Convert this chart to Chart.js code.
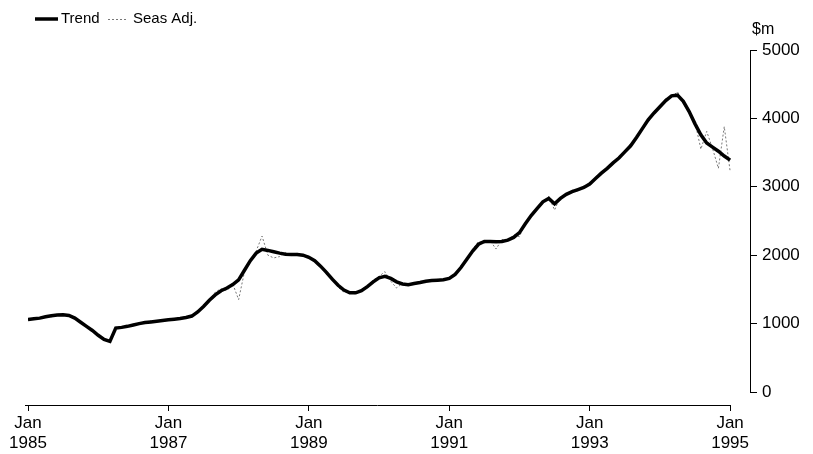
<!DOCTYPE html>
<html>
<head>
<meta charset="utf-8">
<script src="https://cdn.jsdelivr.net/npm/chart.js@4.4.1/dist/chart.umd.min.js"></script>
<style>
  html, body { margin: 0; padding: 0; background: #fff; }
  canvas { display: block; }
</style>
</head>
<body>
<canvas id="chart" width="813" height="454"></canvas>
<script>
// monthly values, Jan 1985 .. Jan 1995 ($m)
const trend = [
    1060, 1070, 1080, 1100, 1115, 1125, 1130, 1120, 1080, 1020, 960, 900,
    830, 770, 740, 935, 945, 960, 980, 1000, 1015, 1025, 1035, 1045,
    1055, 1065, 1075, 1090, 1110, 1170, 1250, 1340, 1420, 1480, 1520, 1570,
    1640, 1780, 1920, 2030, 2085, 2070, 2050, 2030, 2015, 2010, 2010, 2000,
    1970, 1920, 1840, 1750, 1650, 1560, 1490, 1450, 1450, 1480, 1540, 1610,
    1670, 1690, 1660, 1610, 1580, 1570, 1585, 1600, 1620, 1630, 1635, 1640,
    1660, 1720, 1820, 1940, 2060, 2160, 2200, 2200, 2195, 2200, 2220, 2260,
    2330, 2460, 2580, 2680, 2780, 2830, 2750, 2830, 2890, 2930, 2960, 2990,
    3040, 3120, 3200, 3270, 3350, 3420, 3510, 3600, 3720, 3850, 3980, 4080,
    4170, 4260, 4330, 4340, 4250, 4100, 3920, 3760, 3640, 3580, 3520, 3450,
    3390
];
const seasAdj = [
    1050, 1080, 1070, 1110, 1100, 1140, 1120, 1130, 1070, 1030, 950, 910,
    830, 780, 730, 950, 930, 970, 970, 1010, 1000, 1040, 1030, 1050,
    1060, 1060, 1090, 1080, 1120, 1160, 1270, 1330, 1460, 1510, 1480, 1580,
    1350, 1760, 1930, 2060, 2280, 2000, 1960, 1980, 2040, 1990, 2030, 1980,
    1990, 1900, 1860, 1720, 1680, 1530, 1460, 1470, 1430, 1500, 1520, 1640,
    1690, 1760, 1620, 1520, 1590, 1550, 1600, 1590, 1630, 1620, 1650, 1630,
    1670, 1700, 1850, 1920, 2090, 2200, 2180, 2210, 2090, 2230, 2200, 2300,
    2270, 2480, 2560, 2700, 2770, 2860, 2660, 2860, 2870, 2950, 2940, 3010,
    3030, 3140, 3190, 3290, 3340, 3440, 3500, 3630, 3700, 3880, 3940, 4110,
    4150, 4290, 4310, 4390, 4220, 4080, 3950, 3550, 3810, 3560, 3270, 3880,
    3230
];
const xTicks = [0, 24, 48, 72, 96, 120];
const yTicks = [0, 1000, 2000, 3000, 4000, 5000];
const startYear = 1985;

// month index for each point
const months = trend.map((v, i) => i);

const fontFam = "'Liberation Sans', Arial, sans-serif";

// axis lines, legend and unit label
const extras = {
    id: "extras",
    afterDraw(chart) {
        const c = chart.ctx;
        const xs = chart.scales.x;
        const ys = chart.scales.y;
        const area = chart.chartArea;
        c.save();
        c.strokeStyle = "#000";
        c.lineWidth = 1;
        c.setLineDash([]);
        // y axis line, 0 to 5000 only
        c.beginPath();
        c.moveTo(area.right + 0.5, ys.getPixelForValue(0));
        c.lineTo(area.right + 0.5, ys.getPixelForValue(5000));
        c.stroke();
        // x axis line
        c.beginPath();
        c.moveTo(xs.getPixelForValue(0) - 3, area.bottom + 0.5);
        c.lineTo(xs.getPixelForValue(120), area.bottom + 0.5);
        c.stroke();

        // legend
        c.lineWidth = 3.5;
        c.beginPath();
        c.moveTo(35, 19);
        c.lineTo(58, 19);
        c.stroke();
        c.lineWidth = 1;
        c.strokeStyle = "#777";
        c.setLineDash([2, 2]);
        c.beginPath();
        c.moveTo(108, 19.5);
        c.lineTo(126, 19.5);
        c.stroke();
        c.setLineDash([]);
        c.fillStyle = "#000";
        c.font = "15px " + fontFam;
        c.textBaseline = "middle";
        c.textAlign = "left";
        c.fillText("Trend", 61, 19);
        c.fillText("Seas Adj.", 133, 19);

        // unit
        c.font = "16px " + fontFam;
        c.fillText("$m", 752, 30);
        c.restore();
    }
};

const ctx = document.getElementById("chart").getContext("2d");
new Chart(ctx, {
    type: "line",
    data: {
        labels: months,
        datasets: [
            {
                label: "Trend",
                data: trend,
                borderColor: "#000",
                borderWidth: 3.5,
                pointRadius: 0,
                tension: 0,
                fill: false
            },
            {
                label: "Seas Adj.",
                data: seasAdj,
                borderColor: "#777",
                borderWidth: 1,
                borderDash: [2, 2],
                pointRadius: 0,
                tension: 0,
                fill: false
            }
        ]
    },
    options: {
        responsive: false,
        animation: false,
        devicePixelRatio: 1,
        layout: { padding: { top: 50, left: 28, right: 0, bottom: 0 } },
        plugins: {
            legend: { display: false },
            tooltip: { enabled: false }
        },
        scales: {
            x: {
                type: "linear",
                min: 0,
                max: 123.4,
                afterBuildTicks: s => { s.ticks = xTicks.map(v => ({ value: v })); },
                afterFit: s => { s.height = 49; },
                border: { display: false },
                grid: {
                    display: true,
                    drawOnChartArea: false,
                    drawTicks: true,
                    tickLength: 6,
                    color: "#000"
                },
                ticks: {
                    autoSkip: false,
                    maxRotation: 0,
                    padding: 2,
                    color: "#000",
                    font: { family: fontFam, size: 17 },
                    callback: v => ["Jan", String(startYear + v / 12)]
                }
            },
            y: {
                position: "right",
                min: -190,
                max: 5000,
                afterBuildTicks: s => { s.ticks = yTicks.map(v => ({ value: v })); },
                afterFit: s => { s.width = 63; },
                border: { display: false },
                grid: {
                    display: true,
                    drawOnChartArea: false,
                    drawTicks: true,
                    tickLength: 7,
                    color: "#000"
                },
                ticks: {
                    padding: 5,
                    color: "#000",
                    font: { family: fontFam, size: 17 },
                    callback: v => String(v)
                }
            }
        }
    },
    plugins: [extras]
});
</script>
</body>
</html>
